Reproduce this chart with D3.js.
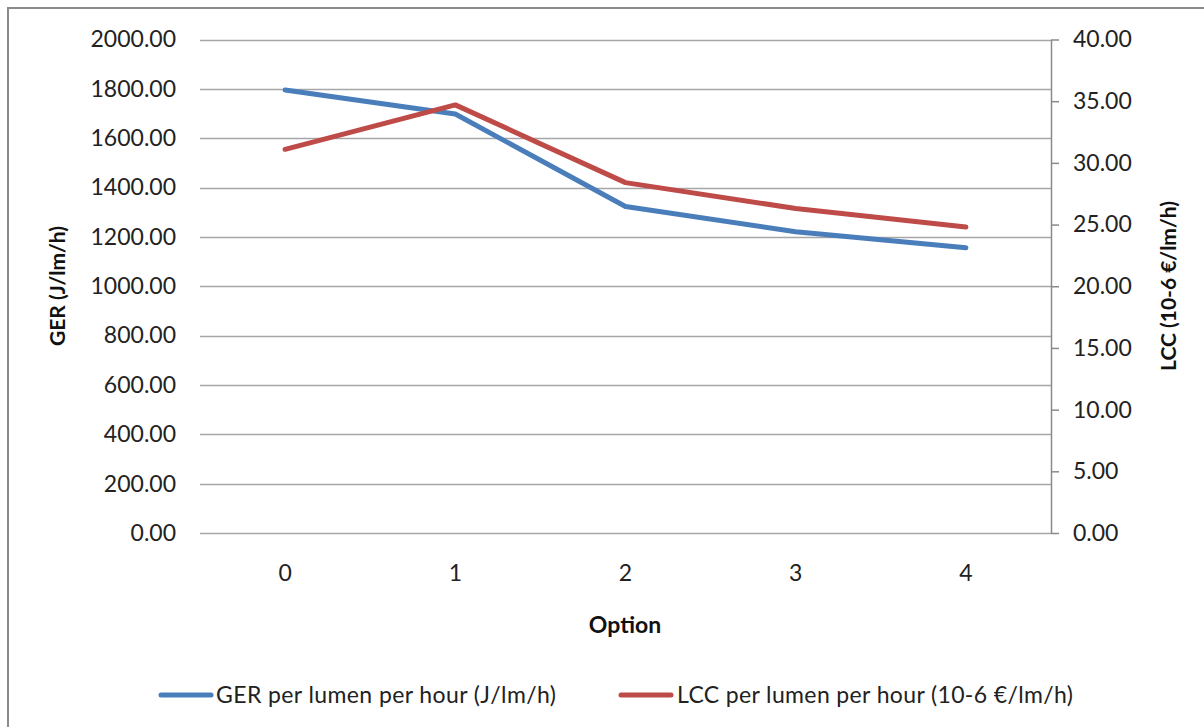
<!DOCTYPE html>
<html>
<head>
<meta charset="utf-8">
<script src="https://cdn.jsdelivr.net/npm/d3@7"></script>
<style>
  html, body { margin: 0; padding: 0; background: #fff; }
  svg { display: block; font-family: Lato, "Open Sans", sans-serif; }
</style>
</head>
<body>
<svg id="chart" width="1204" height="727"></svg>
<script>
const categories = ["0", "1", "2", "3", "4"];
const gerValues = [1795, 1698, 1323, 1221, 1156];
const lccValues = [31.1, 34.7, 28.4, 26.3, 24.8];
const leftTicks = [0, 200, 400, 600, 800, 1000, 1200, 1400, 1600, 1800, 2000];
const rightTicks = [0, 5, 10, 15, 20, 25, 30, 35, 40];
const seriesNames = ["GER per lumen per hour (J/lm/h)", "LCC per lumen per hour (10-6 €/lm/h)"];
const seriesColors = ["#4A7EBB", "#BE4B48"];

const svg = d3.select("#chart");
const plot = { left: 200, right: 1051, top: 39.5, bottom: 533 };

// outer frame
svg.append("rect").attr("x", 8).attr("y", 8).attr("width", 1220).attr("height", 740)
  .attr("fill", "#fff").attr("stroke", "#8a8a8a").attr("stroke-width", 2);

const x = d3.scaleBand().domain(categories).range([plot.left, plot.right]);
const yL = d3.scaleLinear().domain([0, 2000]).range([plot.bottom, plot.top]);
const yR = d3.scaleLinear().domain([0, 40]).range([plot.bottom, plot.top]);

// gridlines
svg.append("g").selectAll("line").data(leftTicks).join("line")
  .attr("x1", plot.left).attr("x2", plot.right)
  .attr("y1", d => Math.round(yL(d)) + 0.5).attr("y2", d => Math.round(yL(d)) + 0.5)
  .attr("stroke", "#a6a6a6").attr("stroke-width", 1.5);

// left axis labels
const leftAxis = svg.append("g").attr("transform", `translate(${plot.left},0)`)
  .call(d3.axisLeft(yL).tickValues(leftTicks).tickFormat(d3.format(".2f")).tickSize(0).tickPadding(24));
leftAxis.select(".domain").remove();
leftAxis.selectAll("text").attr("font-size", 23).attr("fill", "#222").attr("font-family", "Lato, sans-serif");

// right axis
const rightAxis = svg.append("g").attr("transform", `translate(${plot.right},0)`)
  .call(d3.axisRight(yR).tickValues(rightTicks).tickFormat(d3.format(".2f")).tickSizeInner(8).tickSizeOuter(0).tickPadding(14));
rightAxis.select(".domain").attr("stroke", "#8a8a8a").attr("stroke-width", 1.5);
rightAxis.selectAll("line").attr("stroke", "#8a8a8a").attr("stroke-width", 1.5);
rightAxis.selectAll("text").attr("font-size", 23).attr("fill", "#222").attr("font-family", "Lato, sans-serif");

// bottom axis labels
const bottomAxis = svg.append("g").attr("transform", `translate(0,${plot.bottom})`)
  .call(d3.axisBottom(x).tickSize(0).tickPadding(32));
bottomAxis.select(".domain").remove();
bottomAxis.selectAll("text").attr("font-size", 23).attr("fill", "#222").attr("font-family", "Lato, sans-serif");

const cx = d => x(d) + x.bandwidth() / 2;

// lines
const lineL = d3.line().x((d, i) => cx(categories[i])).y(d => yL(d));
const lineR = d3.line().x((d, i) => cx(categories[i])).y(d => yR(d));
svg.append("path").datum(gerValues).attr("d", lineL).attr("fill", "none")
  .attr("stroke", seriesColors[0]).attr("stroke-width", 5).attr("stroke-linecap", "round").attr("stroke-linejoin", "round");
svg.append("path").datum(lccValues).attr("d", lineR).attr("fill", "none")
  .attr("stroke", seriesColors[1]).attr("stroke-width", 5).attr("stroke-linecap", "round").attr("stroke-linejoin", "round");

// axis titles
svg.append("text").attr("x", 625).attr("y", 625).attr("dy", "0.35em").attr("text-anchor", "middle")
  .attr("font-size", 23).attr("font-weight", "bold").attr("fill", "#111").text("Option");
svg.append("text").attr("transform", "translate(58,286) rotate(-90)").attr("dy", "0.35em").attr("text-anchor", "middle")
  .attr("font-size", 21).attr("font-weight", "bold").attr("fill", "#111").text("GER (J/lm/h)");
svg.append("text").attr("transform", "translate(1169,286) rotate(-90)").attr("dy", "0.35em").attr("text-anchor", "middle")
  .attr("font-size", 21).attr("font-weight", "bold").attr("fill", "#111").text("LCC (10-6 €/lm/h)");

// legend
const legendItems = [
  { x1: 161, x2: 211, tx: 216, len: 340, name: seriesNames[0], color: seriesColors[0] },
  { x1: 621, x2: 671, tx: 677, len: 396, name: seriesNames[1], color: seriesColors[1] }
];
const lg = svg.append("g");
legendItems.forEach(it => {
  lg.append("line").attr("x1", it.x1).attr("x2", it.x2).attr("y1", 695).attr("y2", 695)
    .attr("stroke", it.color).attr("stroke-width", 5).attr("stroke-linecap", "round");
  lg.append("text").attr("x", it.tx).attr("y", 695).attr("dy", "0.35em")
    .attr("font-size", 23).attr("fill", "#222")
    .attr("textLength", it.len).attr("lengthAdjust", "spacing").text(it.name);
});
</script>
</body>
</html>
